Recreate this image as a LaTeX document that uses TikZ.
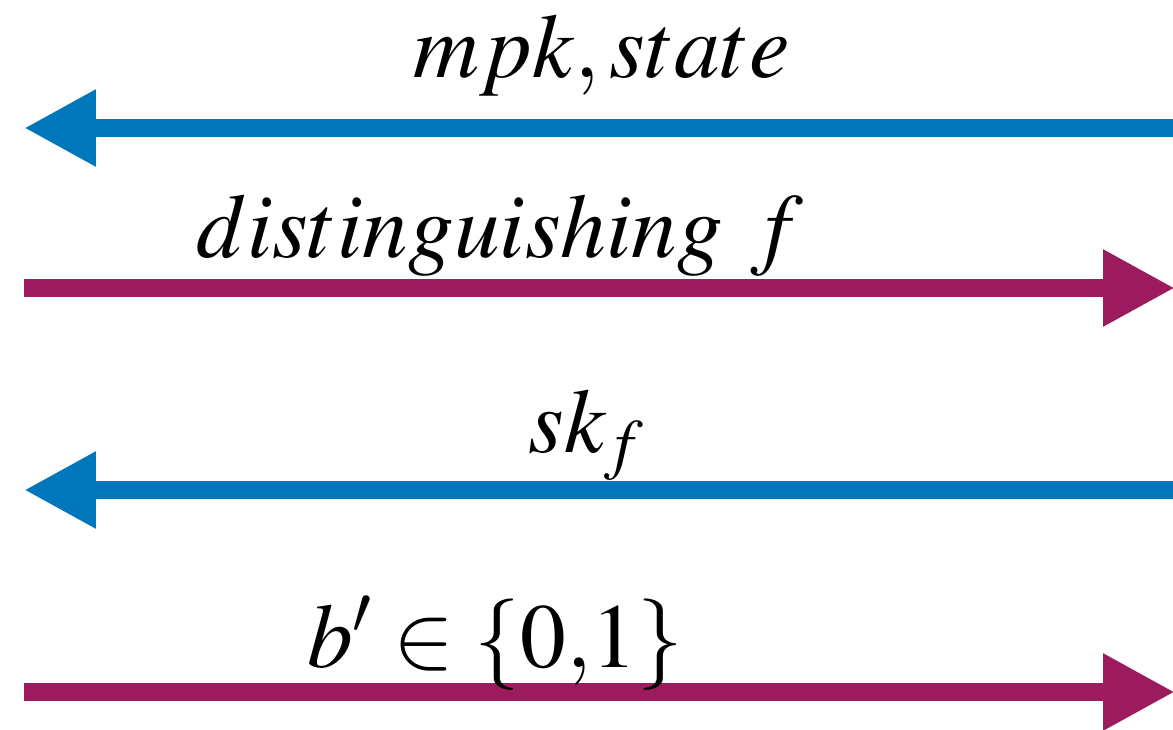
\documentclass[tikz,border=0pt]{standalone}
\usepackage{mathptmx}
\usepackage{xcolor}
\definecolor{chal}{HTML}{0077BB}
\definecolor{advr}{HTML}{9B1B5E}
\usepackage{tikz}
\usetikzlibrary{arrows.meta,positioning}
\tikzset{
  msg/.style={line width=1.8mm,-{Triangle[length=7.2mm,width=7.2mm]}},
  down/.style={msg,draw=chal},
  up/.style={msg,draw=advr},
  lab/.style={anchor=base,inner sep=0pt,font=\fontsize{26}{30}\selectfont},
}
\begin{document}
\begin{tikzpicture}[x=0.1mm,y=-0.1mm]
\useasboundingbox (0,0) rectangle (1173,729);
% end points of the four messages
\coordinate (l1) at (24,128);  \coordinate (r1) at (1173,128);
\coordinate (l2) at (24,288);  \coordinate (r2) at (1175,288);
\coordinate (l3) at (24,490);  \coordinate (r3) at (1173,490);
\coordinate (l4) at (24,692);  \coordinate (r4) at (1175,692);
\draw[down] (r1) -- (l1);
\draw[up]   (l2) -- (r2);
\draw[down] (r3) -- (l3);
\draw[up]   (l4) -- (r4);
% labels
\node[lab] (mpk)  at (602,77)  {$mpk, state$};
\node[lab] (dist) at (500,257) {$distinguishing\ f$};
\node[lab] (skf)  at (587,452) {$sk_f$};
\node[lab] (bit)  at (495,667) {$b' \in \{0{,}1\}$};
\end{tikzpicture}
\end{document}
